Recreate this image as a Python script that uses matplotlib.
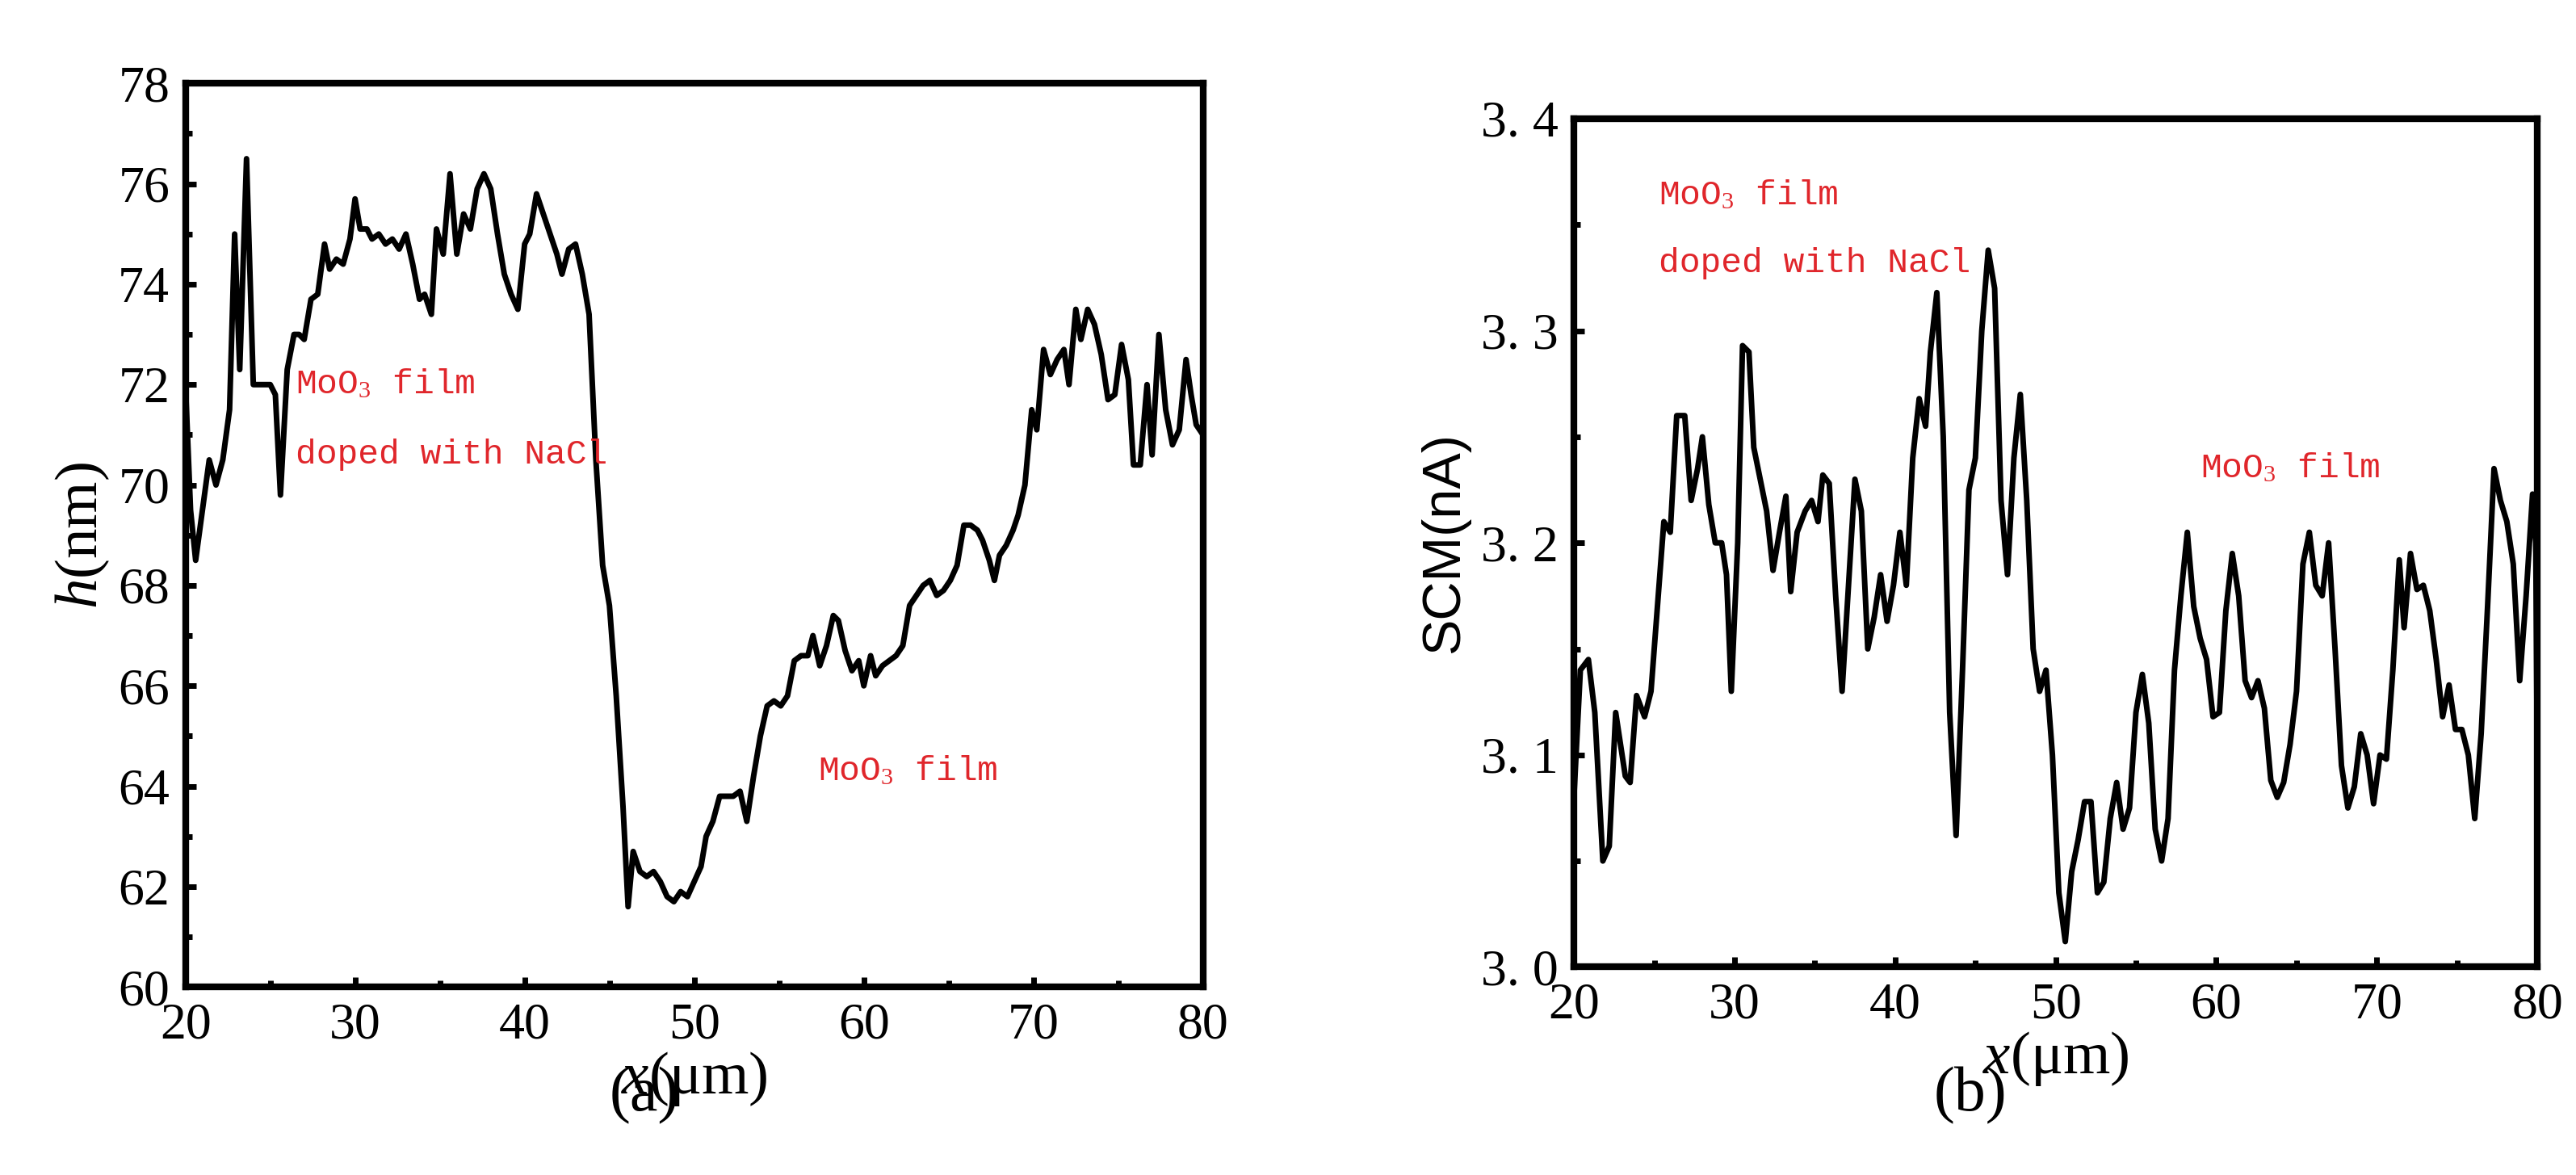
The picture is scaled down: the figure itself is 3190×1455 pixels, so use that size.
import matplotlib
matplotlib.use('Agg')
import matplotlib.pyplot as plt
from matplotlib.ticker import MultipleLocator

plt.rcParams['mathtext.fontset'] = 'custom'
plt.rcParams['mathtext.rm'] = 'Liberation Serif'
plt.rcParams['mathtext.it'] = 'Liberation Serif:italic'

# (a) height profile
xa = [20, 20.3, 20.6, 21, 21.4, 21.8, 22.2, 22.6, 22.9, 23.2, 23.6, 24, 24.5, 25, 25.3, 25.6, 26, 26.4, 26.7, 27,
      27.4, 27.8, 28.2, 28.5, 28.9, 29.3, 29.7, 30, 30.3, 30.7, 31, 31.4, 31.8, 32.2, 32.6, 33, 33.4, 33.8, 34.1, 34.5,
      34.8, 35.2, 35.6, 36, 36.4, 36.8, 37.2, 37.6, 38, 38.4, 38.8, 39.2, 39.6, 40, 40.3, 40.7, 41.1, 41.5, 41.9, 42.2,
      42.6, 43, 43.4, 43.8, 44.2, 44.6, 45, 45.4, 45.8, 46.1, 46.4, 46.8, 47.2, 47.6, 48, 48.4, 48.8, 49.2, 49.6, 50,
      50.4, 50.7, 51.1, 51.5, 51.9, 52.3, 52.7, 53.1, 53.5, 53.9, 54.3, 54.7, 55.1, 55.5, 55.9, 56.3, 56.7, 57, 57.4, 57.8,
      58.2, 58.5, 58.9, 59.3, 59.7, 60, 60.4, 60.7, 61.1, 61.5, 61.9, 62.3, 62.7, 63.1, 63.5, 63.9, 64.3, 64.7, 65.1, 65.5,
      65.9, 66.3, 66.7, 67, 67.4, 67.7, 68, 68.4, 68.8, 69.1, 69.5, 69.9, 70.2, 70.6, 71, 71.4, 71.8, 72.1, 72.5, 72.8,
      73.2, 73.6, 74, 74.4, 74.8, 75.2, 75.6, 75.9, 76.3, 76.7, 77, 77.4, 77.8, 78.2, 78.6, 79, 79.3, 79.6, 80]
ha = [72, 69.5, 68.5, 69.5, 70.5, 70, 70.5, 71.5, 75, 72.3, 76.5, 72, 72, 72, 71.8, 69.8, 72.3, 73, 73, 72.9,
      73.7, 73.8, 74.8, 74.3, 74.5, 74.4, 74.9, 75.7, 75.1, 75.1, 74.9, 75, 74.8, 74.9, 74.7, 75, 74.4, 73.7, 73.8, 73.4,
      75.1, 74.6, 76.2, 74.6, 75.4, 75.1, 75.9, 76.2, 75.9, 75, 74.2, 73.8, 73.5, 74.8, 75, 75.8, 75.4, 75, 74.6, 74.2,
      74.7, 74.8, 74.2, 73.4, 70.5, 68.4, 67.6, 65.8, 63.6, 61.6, 62.7, 62.3, 62.2, 62.3, 62.1, 61.8, 61.7, 61.9, 61.8, 62.1,
      62.4, 63, 63.3, 63.8, 63.8, 63.8, 63.9, 63.3, 64.2, 65, 65.6, 65.7, 65.6, 65.8, 66.5, 66.6, 66.6, 67, 66.4, 66.8,
      67.4, 67.3, 66.7, 66.3, 66.5, 66, 66.6, 66.2, 66.4, 66.5, 66.6, 66.8, 67.6, 67.8, 68, 68.1, 67.8, 67.9, 68.1, 68.4,
      69.2, 69.2, 69.1, 68.9, 68.5, 68.1, 68.6, 68.8, 69.1, 69.4, 70, 71.5, 71.1, 72.7, 72.2, 72.5, 72.7, 72, 73.5, 72.9,
      73.5, 73.2, 72.6, 71.7, 71.8, 72.8, 72.1, 70.4, 70.4, 72, 70.6, 73, 71.5, 70.8, 71.1, 72.5, 71.8, 71.2, 71]

# (b) SCM current profile
xb = [20, 20.4, 20.9, 21.3, 21.8, 22.2, 22.6, 23.2, 23.5, 23.9, 24.4, 24.8, 25.2, 25.6, 26, 26.4, 26.9, 27.3, 27.7, 28,
      28.4, 28.8, 29.2, 29.5, 29.8, 30.2, 30.5, 30.9, 31.2, 31.6, 32, 32.4, 32.8, 33.2, 33.5, 33.9, 34.4, 34.8, 35.2, 35.5,
      35.9, 36.3, 36.7, 37.1, 37.5, 37.9, 38.3, 38.7, 39.1, 39.5, 39.9, 40.3, 40.7, 41.1, 41.5, 41.9, 42.2, 42.6, 43, 43.4,
      43.8, 44.2, 44.6, 45, 45.4, 45.8, 46.2, 46.6, 47, 47.4, 47.8, 48.2, 48.6, 49, 49.4, 49.8, 50.2, 50.6, 51, 51.4,
      51.8, 52.2, 52.6, 53, 53.4, 53.8, 54.2, 54.6, 55, 55.4, 55.8, 56.2, 56.6, 57, 57.4, 57.8, 58.2, 58.6, 59, 59.4,
      59.8, 60.2, 60.6, 61, 61.4, 61.8, 62.2, 62.6, 63, 63.4, 63.8, 64.2, 64.6, 65, 65.4, 65.8, 66.2, 66.6, 67, 67.4,
      67.8, 68.2, 68.6, 69, 69.4, 69.8, 70.2, 70.6, 71, 71.4, 71.7, 72.1, 72.5, 72.9, 73.3, 73.7, 74.1, 74.5, 74.9, 75.3,
      75.7, 76.1, 76.5, 76.9, 77.3, 77.7, 78.1, 78.5, 78.9, 79.3, 79.7, 79.9, 80]
sb = [3.08, 3.14, 3.145, 3.12, 3.05, 3.057, 3.12, 3.09, 3.087, 3.128, 3.118, 3.13, 3.17, 3.21, 3.205, 3.26, 3.26, 3.22, 3.235, 3.25,
      3.218, 3.2, 3.2, 3.185, 3.13, 3.2, 3.293, 3.29, 3.245, 3.23, 3.215, 3.187, 3.205, 3.222, 3.177, 3.205, 3.215, 3.22, 3.21, 3.232,
      3.228, 3.175, 3.13, 3.18, 3.23, 3.215, 3.15, 3.165, 3.185, 3.163, 3.18, 3.205, 3.18, 3.24, 3.268, 3.255, 3.29, 3.318, 3.25, 3.12,
      3.062, 3.14, 3.225, 3.24, 3.3, 3.338, 3.32, 3.22, 3.185, 3.24, 3.27, 3.22, 3.15, 3.13, 3.14, 3.1, 3.035, 3.012, 3.045, 3.06,
      3.078, 3.078, 3.035, 3.04, 3.07, 3.087, 3.065, 3.075, 3.12, 3.138, 3.115, 3.065, 3.05, 3.07, 3.14, 3.175, 3.205, 3.17, 3.155, 3.145,
      3.118, 3.12, 3.168, 3.195, 3.175, 3.135, 3.127, 3.135, 3.122, 3.088, 3.08, 3.087, 3.105, 3.13, 3.19, 3.205, 3.18, 3.175, 3.2, 3.15,
      3.095, 3.075, 3.085, 3.11, 3.1, 3.077, 3.1, 3.098, 3.14, 3.192, 3.16, 3.195, 3.178, 3.18, 3.168, 3.145, 3.118, 3.133, 3.112, 3.112,
      3.1, 3.07, 3.11, 3.17, 3.235, 3.22, 3.21, 3.19, 3.135, 3.175, 3.223, 3.2, 3.088]

SERIF = 'Liberation Serif'
MONO = 'Liberation Mono'
RED = '#e0262b'

fig = plt.figure(figsize=(31.9, 14.55), dpi=100)
ax1 = fig.add_axes([0.072, 0.160, 0.395, 0.769])
ax2 = fig.add_axes([0.611, 0.177, 0.374, 0.722])


def style(ax):
    for s in ax.spines.values():
        s.set_linewidth(6)
    ax.tick_params(which='both', direction='in', width=5, labelsize=46, pad=14)
    ax.tick_params(which='major', length=9)
    ax.tick_params(which='minor', length=6)
    ax.xaxis.set_major_locator(MultipleLocator(10))
    ax.xaxis.set_minor_locator(MultipleLocator(5))
    for lbl in ax.get_xticklabels() + ax.get_yticklabels():
        lbl.set_family(SERIF)


ax1.plot(xa, ha, color='black', lw=5)
ax1.set_xlim(20, 80)
ax1.set_ylim(60, 78)
ax1.yaxis.set_major_locator(MultipleLocator(2))
ax1.yaxis.set_minor_locator(MultipleLocator(1))
style(ax1)
ax1.set_xlabel(r'$x$(μm)', fontsize=54, family=SERIF, labelpad=0)
ax1.set_ylabel(r'$h$(nm)', fontsize=54, family=SERIF, labelpad=6)
ax1.text(26.5, 72.0, r'MoO$_3$ film', color=RED, fontsize=31, family=MONO, va='center')
ax1.text(26.5, 70.6, 'doped with NaCl', color=RED, fontsize=31, family=MONO, va='center')
ax1.text(57.3, 64.3, r'MoO$_3$ film', color=RED, fontsize=31, family=MONO, va='center')
fig.text(0.25, 0.055, '(a)', ha='center', fontsize=56, family=SERIF)

ax2.plot(xb, sb, color='black', lw=5)
ax2.set_xlim(20, 80)
ax2.set_ylim(3.0, 3.4)
ax2.yaxis.set_major_locator(MultipleLocator(0.1))
ax2.yaxis.set_minor_locator(MultipleLocator(0.05))
style(ax2)
ax2.set_yticks([3.0, 3.1, 3.2, 3.3, 3.4], ['3. 0', '3. 1', '3. 2', '3. 3', '3. 4'])
for lbl in ax2.get_yticklabels():
    lbl.set_family(SERIF)
ax2.set_xlabel(r'$x$(μm)', fontsize=54, family=SERIF, labelpad=0)
ax2.set_ylabel('SCM(nA)', fontsize=48, family='Liberation Sans', labelpad=10)
ax2.text(25.3, 3.364, r'MoO$_3$ film', color=RED, fontsize=31, family=MONO, va='center')
ax2.text(25.3, 3.332, 'doped with NaCl', color=RED, fontsize=31, family=MONO, va='center')
ax2.text(59, 3.235, r'MoO$_3$ film', color=RED, fontsize=31, family=MONO, va='center')
fig.text(0.765, 0.055, '(b)', ha='center', fontsize=56, family=SERIF)

fig.savefig('out.png', dpi=100)
